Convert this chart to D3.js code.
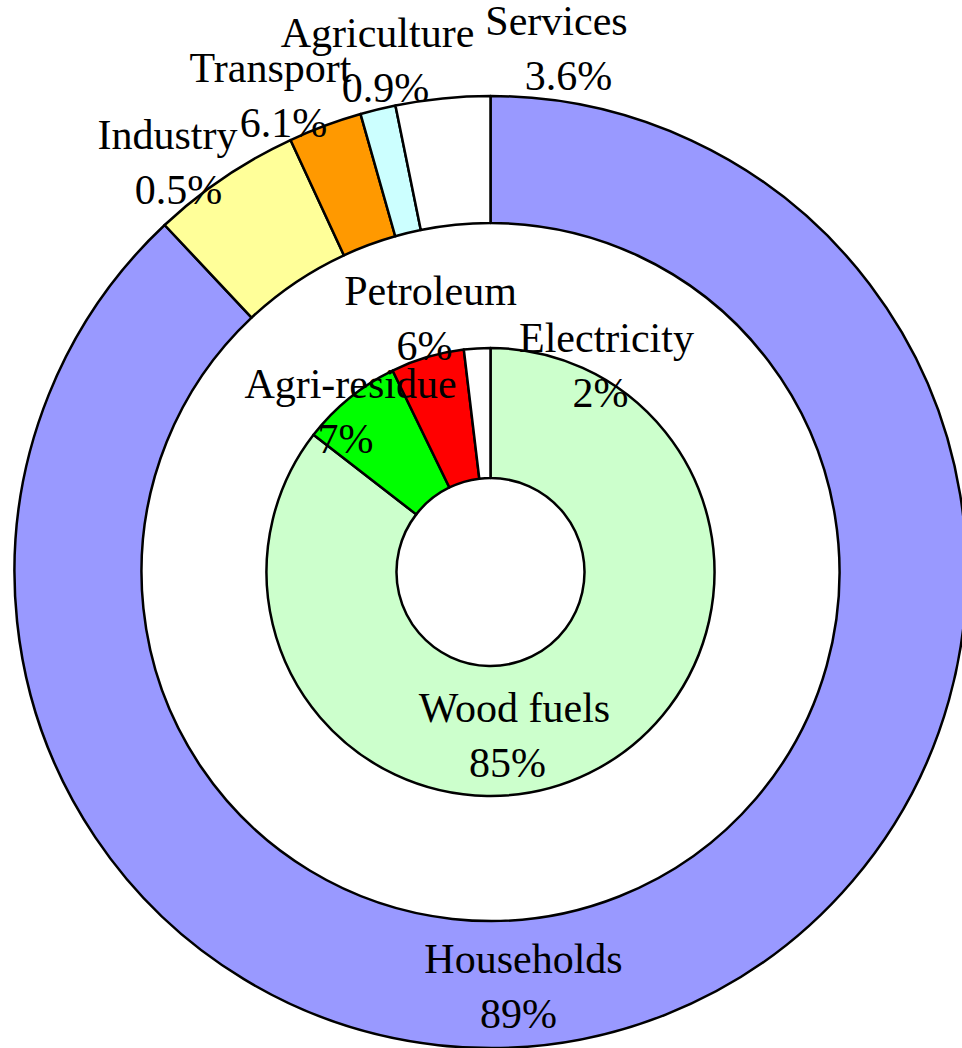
<!DOCTYPE html>
<html>
<head>
<meta charset="utf-8">
<script src="https://cdn.jsdelivr.net/npm/d3@7"></script>
<style>
  body { margin: 0; background: #fff; }
  svg { display: block; overflow: hidden; }
</style>
</head>
<body>
<div id="chart"></div>
<script>
// outer ring: energy use by sector (slice shares)
const sectors = ["Households", "Industry", "Transport", "Agriculture", "Services"];
const sectorShare = [88.0, 5.1, 2.5, 1.2, 3.2];
const sectorLabel = ["89%", "0.5%", "6.1%", "0.9%", "3.6%"];
const sectorColors = ["#9999ff", "#ffff99", "#ff9900", "#ccffff", "#ffffff"];

// inner ring: energy by source
const sources = ["Wood fuels", "Agri-residue", "Petroleum", "Electricity"];
const sourceShare = [85.5, 7.3, 5.3, 1.9];
const sourceLabel = ["85%", "7%", "6%", "2%"];
const sourceColors = ["#ccffcc", "#00ff00", "#ff0000", "#ffffff"];

const width = 962, height = 1048;
const cx = 490.5, cy = 572;

const svg = d3.select("#chart").append("svg")
    .attr("width", width)
    .attr("height", height);

const pie = d3.pie()
    .sort(null)
    .value(d => d.value);

const outerArc = d3.arc().innerRadius(349).outerRadius(476);
const innerArc = d3.arc().innerRadius(94).outerRadius(224);

const outerData = pie(sectors.map((name, i) => ({ name, value: sectorShare[i], label: sectorLabel[i] })));
const innerData = pie(sources.map((name, i) => ({ name, value: sourceShare[i], label: sourceLabel[i] })));

const g = svg.append("g")
    .attr("transform", `translate(${cx},${cy})`);

g.append("g").selectAll("path")
    .data(outerData)
    .enter().append("path")
      .attr("d", outerArc)
      .attr("fill", (d, i) => sectorColors[i])
      .attr("stroke", "#000")
      .attr("stroke-width", 2.5)
      .attr("stroke-linejoin", "round");

g.append("g").selectAll("path")
    .data(innerData)
    .enter().append("path")
      .attr("d", innerArc)
      .attr("fill", (d, i) => sourceColors[i])
      .attr("stroke", "#000")
      .attr("stroke-width", 2.5)
      .attr("stroke-linejoin", "round");

// label spots, relative to the centre: [name x, name baseline, value x]
const labelSpot = {
    "Households":   [33, 401, 28],
    "Industry":     [-323, -423, -312],
    "Transport":    [-220, -490, -207],
    "Agriculture":  [-113, -525, -105],
    "Services":     [66, -537, 78],
    "Wood fuels":   [24, 150, 17],
    "Agri-residue": [-140, -174, -145],
    "Petroleum":    [-60, -267, -66],
    "Electricity":  [116, -220, 110]
};
const lineGap = 55;

const labels = g.append("g")
    .attr("text-anchor", "middle")
    .style("font", "42px \"Liberation Serif\", \"Times New Roman\", serif")
    .attr("fill", "#000");

const allData = outerData.concat(innerData);

const text = labels.selectAll("text")
    .data(allData)
    .enter().append("text");

text.append("tspan")
    .attr("x", d => labelSpot[d.data.name][0])
    .attr("y", d => labelSpot[d.data.name][1])
    .text(d => d.data.name);

text.append("tspan")
    .attr("x", d => labelSpot[d.data.name][2])
    .attr("y", d => labelSpot[d.data.name][1] + lineGap)
    .text(d => d.data.label);
</script>
</body>
</html>
